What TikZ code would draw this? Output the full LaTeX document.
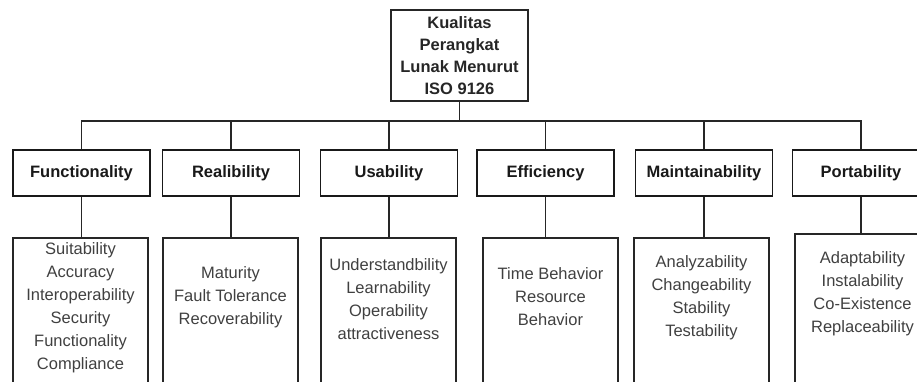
\documentclass[tikz,border=0pt]{standalone}
\usepackage{fontspec}
\setmainfont{Liberation Sans}
\begin{document}
\begin{tikzpicture}[x=1pt,y=-1pt,
  topbox/.style={draw=black!85, line width=1.5pt, minimum width=137pt, minimum height=91pt,
    inner sep=0pt, align=center, font=\fontsize{16.5}{22}\selectfont\bfseries, text=black!85},
  catbox/.style={draw=black!90, line width=1.8pt, minimum width=137pt, minimum height=46pt,
    inner sep=0pt, font=\fontsize{16.5}{20}\selectfont\bfseries, text=black!90},
  detbox/.style={draw=black!85, line width=1.5pt, minimum width=135pt, minimum height=170pt,
    inner sep=0pt, anchor=north},
  dettext/.style={align=center, inner sep=0pt, font=\fontsize{16.5}{23}\selectfont, text=black!75},
  link/.style={draw=black!85, line width=1.5pt}]
  \useasboundingbox (0,0) rectangle (917,381);
  \clip (0,0) rectangle (917,381);

  % root of the tree
  \node[topbox] (root) at (459.5,55.5) {Kualitas\\Perangkat\\Lunak Menurut\\ISO 9126};
  \coordinate (bus) at (0,121);

  % characteristics
  \node[catbox] (fun) at (81.5,173) {Functionality};
  \node[catbox] (rel) at (231,173) {Realibility};
  \node[catbox] (usa) at (389,173) {Usability};
  \node[catbox] (eff) at (545.5,173) {Efficiency};
  \node[catbox] (mai) at (704,173) {Maintainability};
  \node[catbox] (por) at (861,173) {Portability};

  % sub-characteristic boxes
  \node[detbox] (funD) at (80.5,237) {};
  \node[detbox] (relD) at (230.5,237) {};
  \node[detbox] (usaD) at (388.5,237) {};
  \node[detbox] (effD) at (550.5,237) {};
  \node[detbox] (maiD) at (701.5,237) {};
  \node[detbox] (porD) at (862.5,233) {};

  \node[dettext] (funT) at (80.5,308) {Suitability\\Accuracy\\Interoperability\\Security\\Functionality\\Compliance};
  \node[dettext] (relT) at (230.5,297) {Maturity\\Fault Tolerance\\Recoverability};
  \node[dettext] (usaT) at (388.5,299) {Understandbility\\Learnability\\Operability\\attractiveness};
  \node[dettext] (effT) at (550.5,297) {Time Behavior\\Resource\\Behavior};
  \node[dettext] (maiT) at (701.5,298) {Analyzability\\Changeability\\Stability\\Testability};
  \node[dettext] (porT) at (862.5,294) {Adaptability\\Instalability\\Co-Existence\\Replaceability};

  % root to characteristics
  \foreach \c in {fun,rel,usa,eff,mai,por}
    \draw[link] (root.south) -- (root.south |- bus) -| (\c.north);

  % characteristics to sub-characteristics
  \foreach \c in {fun,rel,usa,eff,mai,por}
    \draw[link] (\c.south) -- (\c.south |- \c D.north);
\end{tikzpicture}
\end{document}
